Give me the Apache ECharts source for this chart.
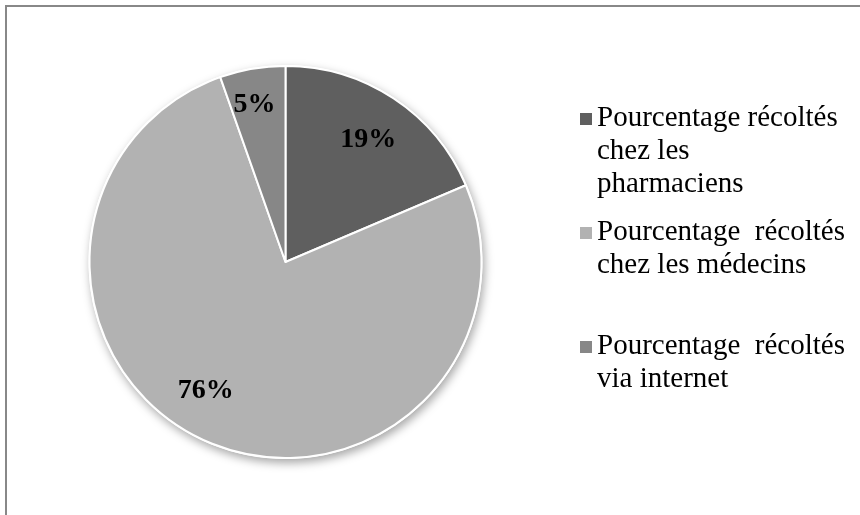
<!DOCTYPE html>
<html>
<head>
<meta charset="utf-8">
<title>Pourcentage récoltés</title>
<script src="https://cdn.jsdelivr.net/npm/echarts@6/dist/echarts.min.js"></script>
<style>
  html, body { margin: 0; padding: 0; background: #fff; }
  #main { width: 860px; height: 515px; }
</style>
</head>
<body>
<div id="main"></div>
<script>
// données
var categories = [
  'Pourcentage récoltés\nchez les\npharmaciens',
  'Pourcentage  récoltés\nchez les médecins\n',
  'Pourcentage  récoltés\nvia internet\n'
];
var values = [18.6, 76.0, 5.4];
var colors = ['#5f5f5f', '#b2b2b2', '#878787'];

// décalage des étiquettes (comme dans Excel)
var labelOffsets = [[27, -38], [-39, 36], [-14, -58]];

var myChart = echarts.init(document.getElementById('main'), null, { renderer: 'canvas' });

var serif = '"Liberation Serif", "Times New Roman", serif';

var option = {
  animation: false,
  backgroundColor: '#fff',
  graphic: [{
    type: 'rect',
    shape: { x: 6, y: 6, width: 900, height: 600 },
    style: { fill: 'none', stroke: '#888', lineWidth: 2 },
    silent: true
  }],
  legend: {
    orient: 'vertical',
    left: 580,
    top: 102,
    padding: 0,
    itemWidth: 12,
    itemHeight: 99,
    itemGap: 15,
    icon: 'path://M0,0M0,11h12v12h-12zM0,99',
    itemStyle: { borderWidth: 0 },
    data: categories,
    textStyle: {
      fontFamily: serif,
      fontSize: 29,
      lineHeight: 33,
      color: '#000'
    }
  },
  series: [
    {
      // ombre de fond du camembert
      type: 'pie',
      silent: true,
      center: [285.5, 262],
      radius: 197,
      label: { show: false },
      labelLine: { show: false },
      itemStyle: {
        color: '#fff',
        shadowBlur: 10,
        shadowColor: 'rgba(0,0,0,0.35)',
        shadowOffsetX: 2,
        shadowOffsetY: 4
      },
      data: [{ value: 1, name: '_bg' }]
    },
    {
      name: 'Pourcentage',
      type: 'pie',
      center: [285.5, 262],
      radius: 196,
      startAngle: 90,
      clockwise: true,
      label: {
        show: true,
        position: 'inside',
        fontFamily: serif,
        fontSize: 28,
        fontWeight: 'bold',
        color: '#000',
        formatter: function (p) { return Math.round(p.percent) + '%'; }
      },
      labelLine: { show: false },
      itemStyle: { borderColor: '#fff', borderWidth: 2 },
      data: categories.map(function (c, i) {
        return {
          name: c,
          value: values[i],
          itemStyle: { color: colors[i] },
          label: { offset: labelOffsets[i] }
        };
      })
    }
  ]
};

myChart.setOption(option);
</script>
</body>
</html>
